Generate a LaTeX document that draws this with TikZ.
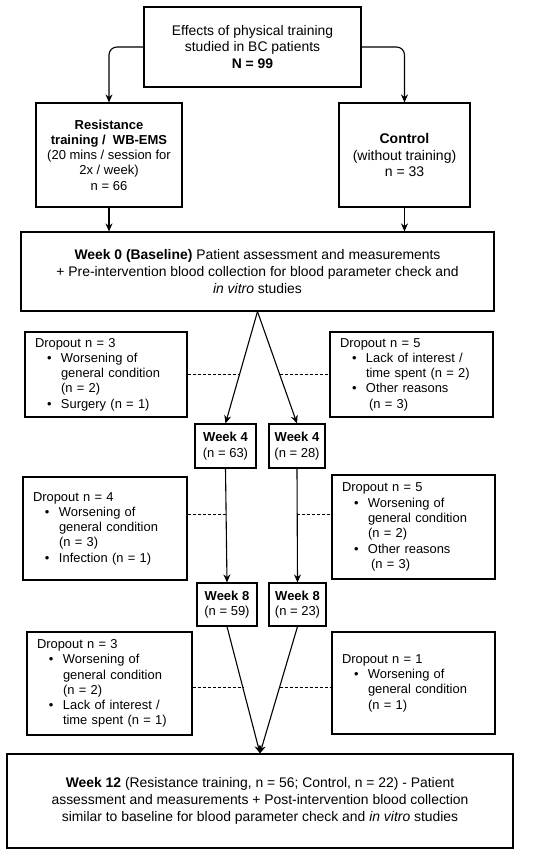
\documentclass[tikz,border=0pt]{standalone}
\usepackage{fontspec}
\setmainfont{Liberation Sans}
\usetikzlibrary{arrows.meta,intersections}

\newcommand{\bul}{\hspace*{12pt}\makebox[14pt][l]{\textbullet}}
\newcommand{\ind}{\hspace*{26pt}}

\begin{document}
\begin{tikzpicture}[x=1pt, y=-1pt,
	box/.style={draw, line width=1.2pt, inner sep=0pt, align=center, font=\fontsize{13.9}{16.8}\selectfont},
	smallbox/.style={box, font=\fontsize{13}{15.3}\selectfont},
	dropbox/.style={draw, line width=1.2pt, inner xsep=10pt, inner ysep=0pt, align=left, font=\fontsize{12.9}{15.3}\selectfont},
	flow/.style={line width=1.1pt, -{Stealth[length=8pt,width=7pt]}},
	dropline/.style={line width=1pt, dash pattern=on 3pt off 2pt}]

	\useasboundingbox (0,0) rectangle (550,860);

	\node[box, minimum width=217pt, minimum height=80pt] (study) at (252.5,47) {Effects of physical training\\studied in BC patients\\\textbf{N = 99}};
	\node[smallbox, minimum width=146pt, minimum height=104pt] (resist) at (109,155) {\textbf{Resistance}\\\textbf{training /~ WB-EMS}\\(20 mins / session for\\2x / week)\\n = 66};
	\node[box, font=\fontsize{14}{16.7}\selectfont, minimum width=131pt, minimum height=104pt] (control) at (404.5,155) {\textbf{Control}\\(without training)\\n = 33};
	\node[box, minimum width=473pt, minimum height=79pt] (week0) at (257.5,271.5) {\textbf{Week 0 (Baseline)} Patient assessment and measurements\\+ Pre-intervention blood collection for blood parameter check and\\\textit{in vitro} studies};

	\node[smallbox, minimum width=61pt, minimum height=44pt] (wk4r) at (225.5,446) {\textbf{Week 4}\\(n = 63)};
	\node[smallbox, minimum width=56pt, minimum height=44pt] (wk4c) at (297,446) {\textbf{Week 4}\\(n = 28)};
	\node[smallbox, minimum width=60pt, minimum height=43pt] (wk8r) at (227,604.5) {\textbf{Week 8}\\(n = 59)};
	\node[smallbox, minimum width=57pt, minimum height=43pt] (wk8c) at (297.5,604.5) {\textbf{Week 8}\\(n = 23)};

	\node[box, minimum width=506pt, minimum height=94pt] (week12) at (260,801) {\textbf{Week 12} (Resistance training, n = 56; Control, n = 22) - Patient\\assessment and measurements + Post-intervention blood collection\\similar to baseline for blood parameter check and \textit{in vitro} studies};

	\node[dropbox, text width=142pt, minimum height=85pt] (drop1r) at (106,374.5) {Dropout n = 3\\\bul Worsening of\\\ind general condition\\\ind (n = 2)\\\bul Surgery (n = 1)};
	\node[dropbox, text width=143pt, minimum height=85pt] (drop1c) at (411.5,374.5) {Dropout n = 5\\\bul Lack of interest /\\\ind time spent (n = 2)\\\bul Other reasons\\\hspace*{29pt}(n = 3)};
	\node[dropbox, text width=144pt, minimum height=103pt] (drop2r) at (105,528.5) {Dropout n = 4\\\bul Worsening of\\\ind general condition\\\ind (n = 3)\\\bul Infection (n = 1)};
	\node[dropbox, text width=143pt, minimum height=104pt] (drop2c) at (413.5,527) {Dropout n = 5\\\bul Worsening of\\\ind general condition\\\ind (n = 2)\\\bul Other reasons\\\hspace*{29pt}(n = 3)};
	\node[dropbox, text width=145pt, minimum height=103pt] (drop3r) at (109.5,683.5) {Dropout n = 3\\\bul Worsening of\\\ind general condition\\\ind (n = 2)\\\bul Lack of interest /\\\ind time spent (n = 1)};
	\node[dropbox, text width=143pt, minimum height=102pt] (drop3c) at (413.5,683) {Dropout n = 1\\\bul Worsening of\\\ind general condition\\\ind (n = 1)};

	\draw[flow, rounded corners=8pt] (study.west) -| (resist.north);
	\draw[flow, rounded corners=8pt] (study.east) -| (control.north);
	\draw[flow] (resist.south) -- (resist.south |- week0.north);
	\draw[flow] (control.south) -- (control.south |- week0.north);

	\draw[flow, name path=a1] (week0.south) -- (wk4r.north);
	\draw[flow, name path=b1] (week0.south) -- (wk4c.north);
	\draw[flow, name path=a2] (wk4r.south) -- (wk8r.north);
	\draw[flow, name path=b2] (wk4c.south) -- (wk8c.north);
	\draw[flow, name path=a3] (wk8r.south) -- (week12.north);
	\draw[flow, name path=b3] (wk8c.south) -- (week12.north);

	\foreach \i/\y in {1/374, 2/514, 3/687} {
		\path[name path=lvl\i] (0,\y) -- (550,\y);
		\draw[dropline, name intersections={of={lvl\i} and {a\i}, by=pa}] (drop\i r.east |- pa) -- (pa);
		\draw[dropline, name intersections={of={lvl\i} and {b\i}, by=pb}] (pb) -- (drop\i c.west |- pb);
	}

\end{tikzpicture}
\end{document}
